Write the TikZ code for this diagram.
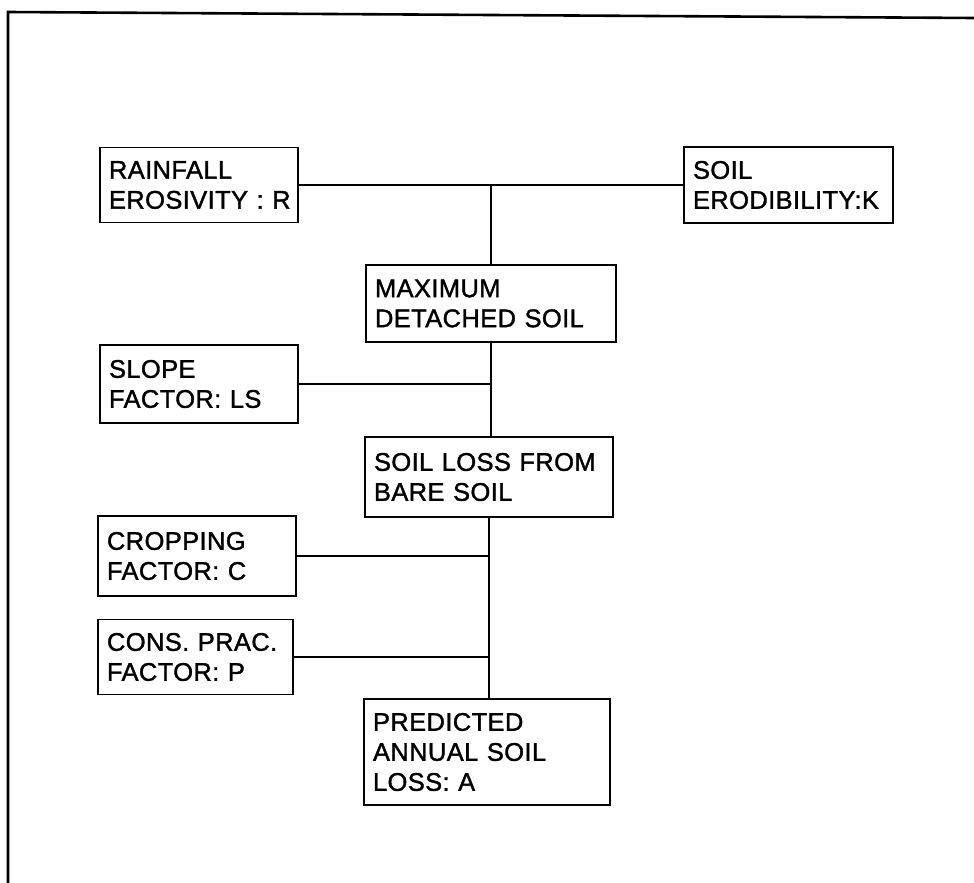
\documentclass[tikz,border=0pt]{standalone}
\usepackage{fontspec}
\setmainfont{Liberation Sans}
\newfontfamily\boxfont{Liberation Sans}[FakeBold=1.4,LetterSpace=1.5]
\begin{document}
\begin{tikzpicture}[x=1pt,y=-1pt,
  box/.style={draw, line width=1.6pt, align=left, inner xsep=9pt, inner ysep=0pt,
    font=\boxfont\fontsize{25.5}{30}\selectfont, anchor=center},
  conn/.style={line width=1.5pt},
  frame/.style={line width=2.6pt}]
\useasboundingbox (0,0) rectangle (974,883);
\draw[frame] (8,883) -- (8,12) -- (974,18);

\node[box, text width=180pt, minimum height=75pt] (R) at (199,185) {\mbox{RAINFALL}\\\mbox{EROSIVITY : R}};
\node[box, text width=191pt, minimum height=76pt] (K) at (788.5,185) {\mbox{SOIL}\\\mbox{ERODIBILITY:K}};
\node[box, text width=232pt, minimum height=77pt] (M) at (491,303.5) {\mbox{MAXIMUM}\\\mbox{DETACHED SOIL}};
\node[box, text width=180pt, minimum height=78pt] (LS) at (199,384) {\mbox{SLOPE}\\\mbox{FACTOR: LS}};
\node[box, text width=230pt, minimum height=80pt] (SL) at (489,477) {\mbox{SOIL LOSS FROM}\\\mbox{BARE SOIL}};
\node[box, text width=180pt, minimum height=80pt] (C) at (197,556) {\mbox{CROPPING}\\\mbox{FACTOR: C}};
\node[box, text width=177pt, minimum height=75pt] (P) at (195.5,657) {\mbox{CONS. PRAC.}\\\mbox{FACTOR: P}};
\node[box, text width=228pt, minimum height=106pt] (A) at (487,752) {\mbox{PREDICTED}\\\mbox{ANNUAL SOIL}\\\mbox{LOSS: A}};

\coordinate (j1) at (R.east -| M.north);
\draw[conn] (R.east) -- (K.west);
\draw[conn] (j1) -- (M.north);
\draw[conn] (M.south) -- (M.south |- SL.north);
\draw[conn] (LS.east) -- (LS.east -| M.south);
\draw[conn] (SL.south) -- (SL.south |- A.north);
\draw[conn] (C.east) -- (C.east -| SL.south);
\draw[conn] (P.east) -- (P.east -| SL.south);
\end{tikzpicture}
\end{document}
